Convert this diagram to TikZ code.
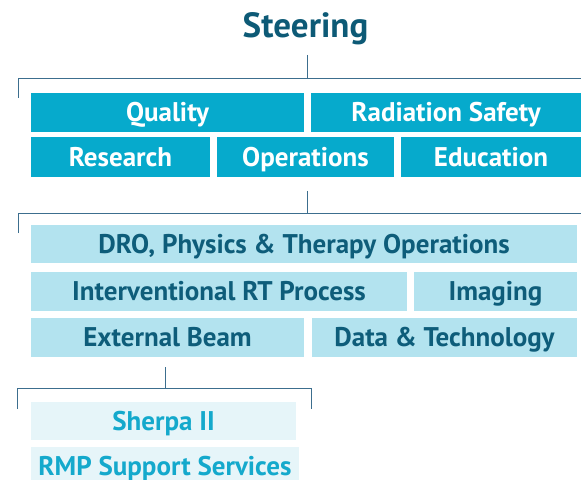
\documentclass[tikz,border=0pt]{standalone}
\usepackage{fontspec}
\setmainfont{PT Sans}
\definecolor{cDark}{HTML}{06AACC}
\definecolor{cLight}{HTML}{B3E3EF}
\definecolor{cPale}{HTML}{E6F5F9}
\definecolor{cTitle}{HTML}{0D5A76}
\definecolor{cTextDark}{HTML}{0E5D7A}
\definecolor{cTextCyan}{HTML}{14A9CC}
\definecolor{cLine}{HTML}{3C6E8E}
\begin{document}
\begin{tikzpicture}[x=1bp,y=-1bp,
  box/.style={rectangle, inner sep=0pt, anchor=center, text height=18.9bp, text depth=0pt, font=\bfseries\fontsize{27bp}{27bp}\selectfont},
  darkbox/.style={box, fill=cDark, text=white},
  lightbox/.style={box, fill=cLight, text=cTextDark},
  palebox/.style={box, fill=cPale, text=cTextCyan},
  conn/.style={draw=cLine, line width=0.9bp}]
\useasboundingbox (0,0) rectangle (581,480);
\node[font=\bfseries\fontsize{35bp}{35bp}\selectfont, text=cTitle, inner sep=0pt, text height=24.5bp, text depth=0pt] (steer) at (305.5,25) {Steering};
% row 1
\node[darkbox, minimum width=273bp, minimum height=39bp] (quality) at (167.5,112.5) {Quality};
\node[darkbox, minimum width=270bp, minimum height=39bp] (radsafe) at (446,112.5) {Radiation Safety};
\node[darkbox, minimum width=179bp, minimum height=40bp] (research) at (120.5,157) {Research};
\node[darkbox, minimum width=177bp, minimum height=40bp] (ops) at (305.5,157) {Operations};
\node[darkbox, minimum width=180bp, minimum height=40bp] (edu) at (491,157) {Education};
% row 2
\node[lightbox, minimum width=546bp, minimum height=38bp] (dro) at (304,244) {DRO, Physics \& Therapy Operations};
\node[lightbox, minimum width=376bp, minimum height=39bp] (irt) at (219,291.5) {Interventional RT Process};
\node[lightbox, minimum width=163bp, minimum height=39bp] (img) at (495.5,291.5) {Imaging};
\node[lightbox, minimum width=273bp, minimum height=39bp] (ext) at (167.5,337.5) {External Beam};
\node[lightbox, minimum width=265bp, minimum height=39bp] (data) at (444.5,337.5) {Data \& Technology};
% row 3
\node[palebox, minimum width=265bp, minimum height=38bp] (sherpa) at (163.5,421) {Sherpa II};
\node[palebox, minimum width=268bp, minimum height=38bp] (rmp) at (165,466) {RMP Support Services};
% connectors
\coordinate (a1) at (307,55);
\coordinate (a2) at (307,78);
\coordinate (a3) at (18,78);
\coordinate (a4) at (18,98);
\coordinate (a5) at (581,78);
\draw[conn] (a1) -- (a2);
\draw[conn] (a4) -- (a3) -- (a5);
\coordinate (b1) at (307,191);
\coordinate (b2) at (307,213);
\coordinate (b3) at (18,213);
\coordinate (b4) at (18,233);
\coordinate (b5) at (581,213);
\draw[conn] (b1) -- (b2);
\draw[conn] (b4) -- (b3) -- (b5);
\coordinate (c1) at (165,367);
\coordinate (c2) at (165,388);
\coordinate (c3) at (17,388);
\coordinate (c4) at (17,409);
\coordinate (c5) at (311,388);
\coordinate (c6) at (311,409);
\draw[conn] (c1) -- (c2);
\draw[conn] (c4) -- (c3) -- (c5) -- (c6);
\end{tikzpicture}
\end{document}
